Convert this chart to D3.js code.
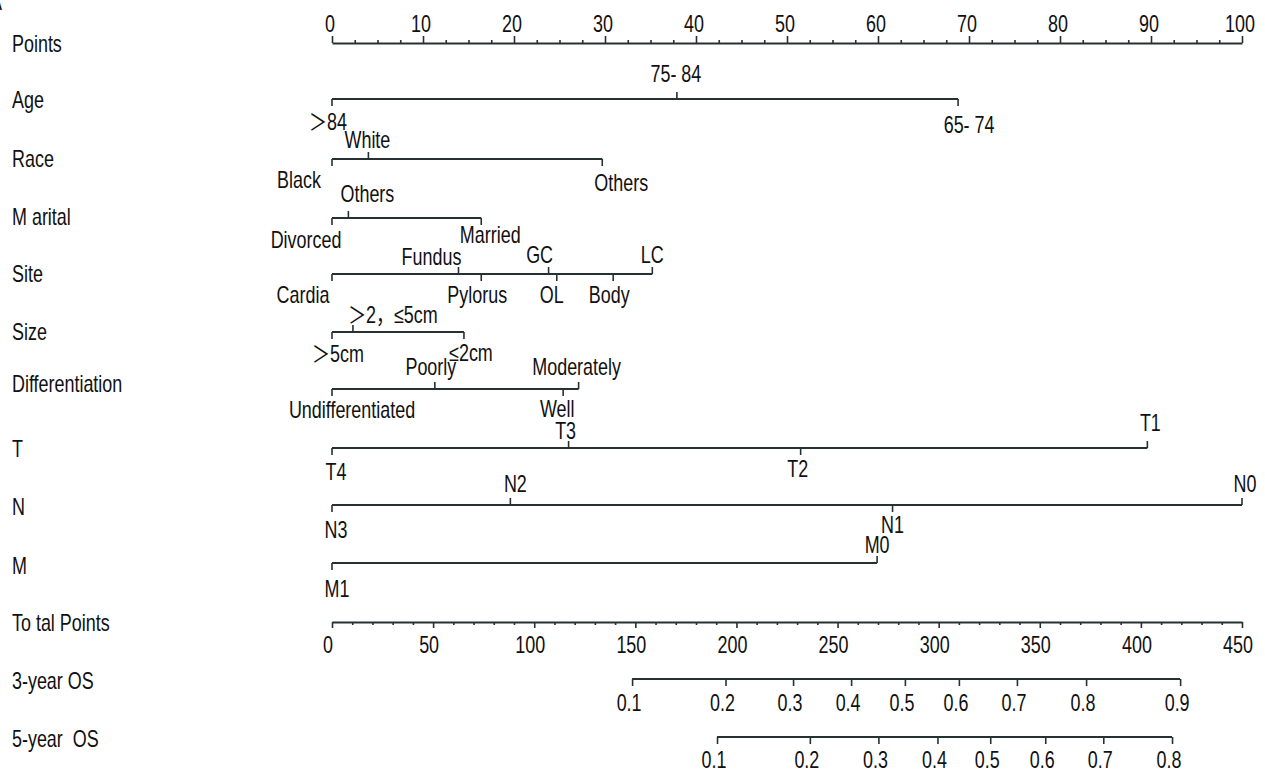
<!DOCTYPE html>
<html><head><meta charset="utf-8">
<script src="https://cdn.jsdelivr.net/npm/d3@7"></script>
<style>
body{margin:0;background:#fff}
svg{display:block}
text{font-family:"Liberation Sans",Arial,"Noto Sans CJK SC",sans-serif;fill:#111;white-space:pre}
</style></head><body>
<svg id="c" width="1265" height="775"></svg>
<script>
// ---------------- DATA ----------------
const rowNames = ["Points","Age","Race","M arital","Site","Size","Differentiation","T","N","M","To tal Points","3-year OS","5-year  OS"];
const pointMajor = [0,10,20,30,40,50,60,70,80,90,100];
const pointMinor = [2.5,5,7.5,12.5,15,17.5,22.5,25,27.5,32.5,35,37.5,42.5,45,47.5,52.5,55,57.5,62.5,65,67.5,72.5,75,77.5,82.5,85,87.5,92.5,95,97.5];

const ageLevels = ["＞84","75- 84","65- 74"];
const agePoints = [0,37.9,68.8];
const raceLevels = ["Black","White","Others"];
const racePoints = [0,4.0,29.7];
const maritalLevels = ["Divorced","Others","Married"];
const maritalPoints = [0,1.8,16.4];
const siteLevels = ["Cardia","Fundus","Pylorus","GC","OL","Body","LC"];
const sitePoints = [0,13.9,16.4,23.8,24.7,30.9,35.2];
const sizeLevels = ["＞5cm","＞2，≤5cm","≤2cm"];
const sizePoints = [0,2.3,14.5];
const diffLevels = ["Undifferentiated","Poorly","Well","Moderately"];
const diffPoints = [0,11.3,25.4,27.1];
const tLevels = ["T4","T3","T2","T1"];
const tPoints = [0,26.0,51.5,89.6];
const nLevels = ["N3","N2","N1","N0"];
const nPoints = [0,19.6,61.6,100];
const mLevels = ["M1","M0"];
const mPoints = [0,59.9];

const totalMajor = [0,50,100,150,200,250,300,350,400,450];
const totalMinor = [10,20,30,40,60,70,80,90,110,120,130,140,160,170,180,190,210,220,230,240,260,270,280,290,310,320,330,340,360,370,380,390,410,420,430,440];
const os3Labels = ["0.1","0.2","0.3","0.4","0.5","0.6","0.7","0.8","0.9"];
const os3Total = [148.4,194.6,228.0,256.7,283.3,310.0,338.7,372.9,419.4];
const os5Labels = ["0.1","0.2","0.3","0.4","0.5","0.6","0.7","0.8"];
const os5Total = [190.4,236.3,270.2,299.4,325.5,352.7,381.4,415.4];

// ---------------- LAYOUT ----------------
const lineY  = [43,99,159,218,274,332,389,448,505,563,622,679,737];
const nameY  = [52,108,167,225,282,340,392,457,515,574,631,689,747];
const FS = 23, SX = 0.78;
const LINE = "#263232";
// per-level: side (1 = tick up / label above, -1 = tick down / label below), label dx, label dy
const varRows = [
  {row:1, levels:ageLevels, pts:agePoints, side:[-1,1,-1], dx:[-4,-1,11], dy:[31,-17,34]},
  {row:2, levels:raceLevels, pts:racePoints, side:[-1,1,-1], dx:[-33,-1,19], dy:[29,-11,32]},
  {row:3, levels:maritalLevels, pts:maritalPoints, side:[-1,1,-1], dx:[-26,19,9], dy:[30,-16,25]},
  {row:4, levels:siteLevels, pts:sitePoints, side:[-1,1,-1,1,-1,-1,1], dx:[-29,-27,-4,-9,-5,-4,0], dy:[29,-9,29,-11,29,29,-11]},
  {row:5, levels:sizeLevels, pts:sizePoints, side:[-1,1,-1], dx:[6,40,7], dy:[30,-9,29]},
  {row:6, levels:diffLevels, pts:diffPoints, side:[-1,1,-1,1], dx:[20,-4,-6,-2], dy:[29,-14,28,-14]},
  {row:7, levels:tLevels, pts:tPoints, side:[-1,1,-1,1], dx:[4,-3,-3,3], dy:[32,-9,29,-17]},
  {row:8, levels:nLevels, pts:nPoints, side:[-1,1,-1,1], dx:[4,5,0,3], dy:[33,-13,28,-13]},
  {row:9, levels:mLevels, pts:mPoints, side:[-1,1], dx:[5,0], dy:[34,-10]}
];

const svg = d3.select("#c");
const xP = d3.scaleLinear().domain([0,100]).range([332,1242]);
const xT = d3.scaleLinear().domain([0,450]).range([332,1242]);

function txt(g, x, y, s, anchor){
  return g.append("text")
    .attr("transform", `translate(${x},${y}) scale(${SX},1)`)
    .attr("text-anchor", anchor||"middle")
    .attr("font-size", FS)
    .text(s);
}

// corner letter (cut off at the edge, as in the reference)
txt(svg, -10, 10, "A", "start");

// row names
rowNames.forEach((n,i)=> txt(svg, 12, nameY[i], n, "start"));

function styleAxis(g, keepDomain){
  g.selectAll("line").attr("stroke", LINE).attr("stroke-width", 1.6);
  if (keepDomain) g.select(".domain").attr("stroke", LINE).attr("stroke-width", 1.8);
  else g.select(".domain").remove();
  g.selectAll("text").remove();
}

// Points axis (ticks up, labels above)
{
  const gMin = svg.append("g").attr("transform",`translate(0,${lineY[0]})`)
    .call(d3.axisTop(xP).tickValues(pointMinor).tickSize(3).tickSizeOuter(0));
  styleAxis(gMin, false);
  const g = svg.append("g").attr("transform",`translate(0,${lineY[0]})`)
    .call(d3.axisTop(xP).tickValues(pointMajor).tickSize(7).tickSizeOuter(0));
  styleAxis(g, true);
  pointMajor.forEach(v=> txt(svg, xP(v)-2, lineY[0]-11, String(v)));
}

// variable rows
varRows.forEach(r=>{
  const y = lineY[r.row];
  const g = svg.append("g");
  g.append("line").attr("x1", xP(d3.min(r.pts))).attr("x2", xP(d3.max(r.pts)))
    .attr("y1", y).attr("y2", y).attr("stroke", LINE).attr("stroke-width", 1.8);
  r.pts.forEach((p,i)=>{
    g.append("line").attr("x1", xP(p)).attr("x2", xP(p))
      .attr("y1", y).attr("y2", y - r.side[i]*7)
      .attr("stroke", LINE).attr("stroke-width", 1.6);
    txt(g, xP(p)+r.dx[i], y + r.dy[i], r.levels[i]);
  });
});

// Total points axis (ticks down, labels below)
{
  const y = lineY[10];
  const gMin = svg.append("g").attr("transform",`translate(0,${y})`)
    .call(d3.axisBottom(xT).tickValues(totalMinor).tickSize(3).tickSizeOuter(0));
  styleAxis(gMin, false);
  const g = svg.append("g").attr("transform",`translate(0,${y})`)
    .call(d3.axisBottom(xT).tickValues(totalMajor).tickSize(6).tickSizeOuter(0));
  styleAxis(g, true);
  totalMajor.forEach(v=> txt(svg, xT(v)-4, y+31, String(v)));
}

// OS axes
function osAxis(row, vals, labs, labDy){
  const y = lineY[row];
  const g = svg.append("g").attr("transform",`translate(0,${y})`)
    .call(d3.axisBottom(xT).tickValues(vals).tickSize(7).tickSizeOuter(0));
  styleAxis(g, false);
  g.append("line").attr("x1", xT(d3.min(vals))).attr("x2", xT(d3.max(vals)))
    .attr("y1", 0).attr("y2", 0).attr("stroke", LINE).attr("stroke-width", 1.8);
  vals.forEach((v,i)=> txt(svg, xT(v)-3, y+labDy, labs[i]));
}
osAxis(11, os3Total, os3Labels, 32);
osAxis(12, os5Total, os5Labels, 31);
</script>
</body></html>
